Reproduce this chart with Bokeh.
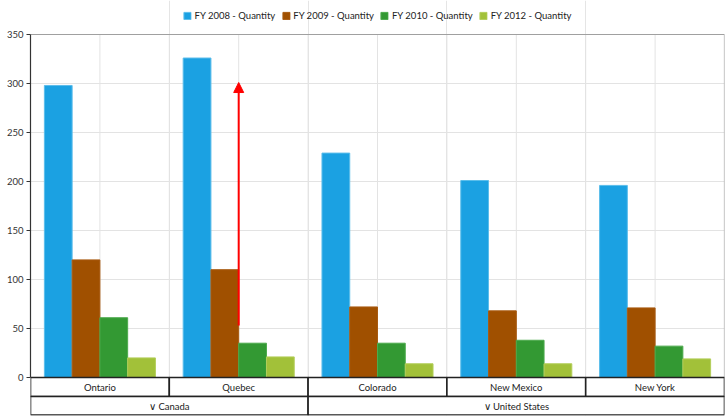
from bokeh.plotting import figure
from bokeh.models import Range1d, FixedTicker, Legend, LegendItem, Arrow, NormalHead, ColumnDataSource
from bokeh.embed import file_html
from bokeh.resources import INLINE
from bokeh.core.properties import value

# ---------------- data ----------------
categories = ["Ontario", "Quebec", "Colorado", "New Mexico", "New York"]
groups = ["Canada", "United States"]
group_sizes = [2, 3]
series_names = ["FY 2008 - Quantity", "FY 2009 - Quantity", "FY 2010 - Quantity", "FY 2012 - Quantity"]
fy2008 = [298, 326, 229, 201, 196]
fy2009 = [120, 110, 72, 68, 71]
fy2010 = [61, 35, 35, 38, 32]
fy2012 = [20, 21, 14, 14, 19]
y_ticks = [0, 50, 100, 150, 200, 250, 300, 350]
arrow_category = "Quebec"
arrow_start = 53
arrow_end = 301

series_values = [fy2008, fy2009, fy2010, fy2012]
colors = ["#1BA1E2", "#A05000", "#339933", "#A2C139"]
edge_colors = ["#5BBDEB", "#A85A10", "#4CAA4C", "#B3CE5A"]

FONT = "Lato"
FSIZE = "9.5px"
n = len(categories)
y_max = y_ticks[-1]
px_per_unit = 343.0 / y_max
row_h = 19.0 / px_per_unit
y_min = -(38.0 / px_per_unit)
y_top = y_max + 34.0 / px_per_unit

p = figure(width=725, height=416, output_backend="svg", toolbar_location=None,
           x_range=Range1d(0, n), y_range=Range1d(y_min, y_top),
           x_axis_location=None,
           min_border_left=30, min_border_right=1, min_border_top=0, min_border_bottom=1)
p.outline_line_color = None
p.background_fill_color = "white"
p.border_fill_color = "white"

# grid
p.ygrid.ticker = FixedTicker(ticks=y_ticks)
p.ygrid.grid_line_color = "#E3E3E3"
p.ygrid.grid_line_width = 1
p.ygrid.bounds = (0, n)
vx = [k * 0.5 for k in range(1, 2 * n)]
p.segment(x0=vx, y0=[0] * len(vx), x1=vx, y1=[y_max] * len(vx), line_color="#E3E3E3", line_width=1)
# top & right border
p.segment(x0=[0, n], y0=[y_max, 0], x1=[n, n], y1=[y_max, y_max], line_color="#A0A0A0", line_width=1.2)

# y axis
ax = p.yaxis[0]
ax.ticker = FixedTicker(ticks=y_ticks)
ax.bounds = (0, y_max)
ax.axis_line_color = "#333333"
ax.axis_line_width = 1.2
ax.major_tick_line_color = "#333333"
ax.major_tick_out = 4
ax.major_tick_in = 0
ax.minor_tick_line_color = None
ax.major_label_text_font = FONT
ax.major_label_text_font_size = FSIZE
ax.major_label_text_color = "#333333"
ax.major_label_standoff = 3

# bars
bar_w = 0.2
offsets = [-0.3, -0.1, 0.1, 0.3]
items = []
for name, vals, col, ec, off in zip(series_names, series_values, colors, edge_colors, offsets):
    src = ColumnDataSource(dict(x=[i + 0.5 + off for i in range(n)], top=vals))
    r = p.vbar(x="x", top="top", bottom=0, width=bar_w, source=src,
               fill_color=col, line_color=ec, line_width=1)
    items.append(LegendItem(label=name, renderers=[r]))

# category boxes
p.quad(left=[i for i in range(n)], right=[i + 1 for i in range(n)],
       bottom=[-row_h] * n, top=[0] * n,
       fill_color="white", line_color="#222222", line_width=1.6)
p.text(x=[i + 0.5 for i in range(n)], y=[-row_h / 2] * n, text=categories,
       text_align="center", text_baseline="middle", text_font=value(FONT),
       text_font_size=FSIZE, text_color="#222222")

g_left, g_right = [], []
s = 0
for gs in group_sizes:
    g_left.append(s)
    g_right.append(s + gs)
    s += gs
p.quad(left=g_left, right=g_right, bottom=[y_min + 0.5] * len(groups), top=[-row_h] * len(groups),
       fill_color="white", line_color="#222222", line_width=1.6)
p.text(x=[(a + b) / 2 for a, b in zip(g_left, g_right)], y=[(-row_h + y_min) / 2] * len(groups),
       text=["\u2228 " + g for g in groups],
       text_align="center", text_baseline="middle", text_font=value(FONT),
       text_font_size=FSIZE, text_color="#222222")

# arrow
ai = categories.index(arrow_category) + 0.5
p.add_layout(Arrow(end=NormalHead(size=10, fill_color="red", line_color="red"),
                   x_start=ai, y_start=arrow_start, x_end=ai, y_end=arrow_end,
                   line_color="red", line_width=2))

legend = Legend(items=items, orientation="horizontal", location="top_center",
                glyph_width=9, glyph_height=9, label_standoff=3, spacing=6,
                padding=0, margin=10, border_line_color=None, background_fill_alpha=0,
                label_text_font=FONT, label_text_font_size=FSIZE, label_text_color="#222222")
p.add_layout(legend, "center")

open("out.html", "w").write(file_html(p, INLINE))
